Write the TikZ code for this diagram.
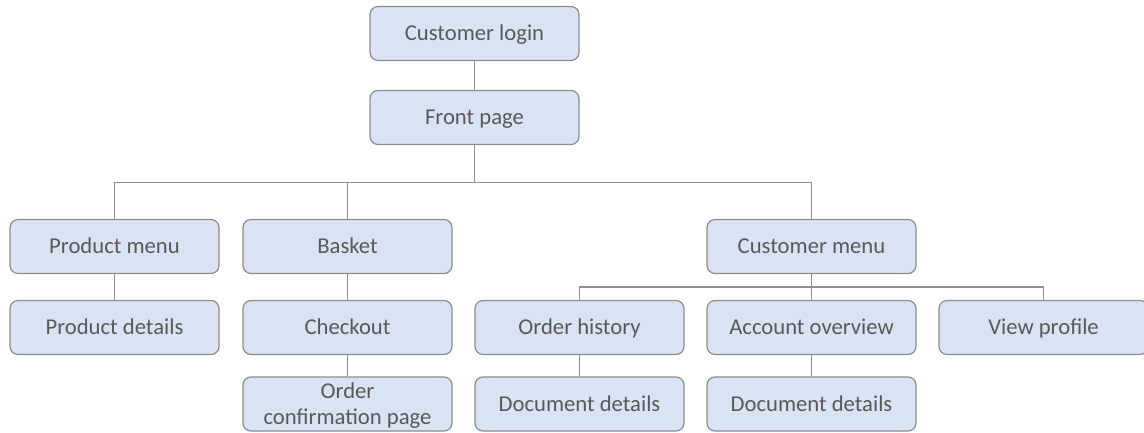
\documentclass[tikz,border=0pt]{standalone}
\usepackage{fontspec}
\setmainfont{Carlito}
\definecolor{boxfill}{HTML}{DAE3F3}
\definecolor{boxdraw}{HTML}{8C8C8C}
\definecolor{linecol}{HTML}{8F8F8F}
\definecolor{txtcol}{HTML}{595959}
\tikzset{
  basebox/.style={draw=boxdraw, fill=boxfill, line width=0.9pt, rounded corners=6pt,
    minimum width=156.75pt, minimum height=40.5pt, inner sep=0pt,
    text=txtcol, font=\fontsize{17}{19.5}\selectfont, align=center},
  pagebox/.style={basebox, text height=13.25pt, text depth=2.75pt},
  conn/.style={draw=linecol, line width=0.9pt}
}
\begin{document}
\begin{tikzpicture}[x=0.75pt,y=-0.75pt]
\useasboundingbox (0,0) rectangle (1144,432);
\node[pagebox] (login) at (474.5,33.5) {Customer login};
\node[pagebox] (front) at (474.5,117.5) {Front page};
\node[pagebox] (pm) at (114.5,246.5) {Product menu};
\node[pagebox] (pd) at (114.5,327.5) {Product details};
\node[pagebox] (bask) at (347.5,246.5) {Basket};
\node[pagebox] (chk) at (347.5,327.5) {Checkout};
\node[basebox, text depth=0pt] (conf) at (347.5,404) {Order\\confirmation page};
\node[pagebox] (cm) at (811.5,246.5) {Customer menu};
\node[pagebox] (oh) at (579.5,327.5) {Order history};
\node[pagebox] (ao) at (811.5,327.5) {Account overview};
\node[pagebox] (vp) at (1043.5,327.5) {View profile};
\node[pagebox] (dd1) at (579.5,404) {Document details};
\node[pagebox] (dd2) at (811.5,404) {Document details};
\coordinate (bus1) at (474.5,182.5);
\coordinate (bus2) at (811.5,287);
\draw[conn] (login.south) -- (front.north);
\draw[conn, line width=1.2pt] (front.south) -- (bus1);
\draw[conn] (bus1) -| (pm.north);
\draw[conn] (bus1) -| (bask.north);
\draw[conn] (bus1) -| (cm.north);
\draw[conn] (pm.south) -- (pd.north);
\draw[conn] (bask.south) -- (chk.north);
\draw[conn] (chk.south) -- (conf.north);
\draw[conn] (cm.south) -- (ao.north);
\draw[conn] (bus2) -| (oh.north);
\draw[conn] (bus2) -| (vp.north);
\draw[conn] (oh.south) -- (dd1.north);
\draw[conn] (ao.south) -- (dd2.north);
\end{tikzpicture}
\end{document}
